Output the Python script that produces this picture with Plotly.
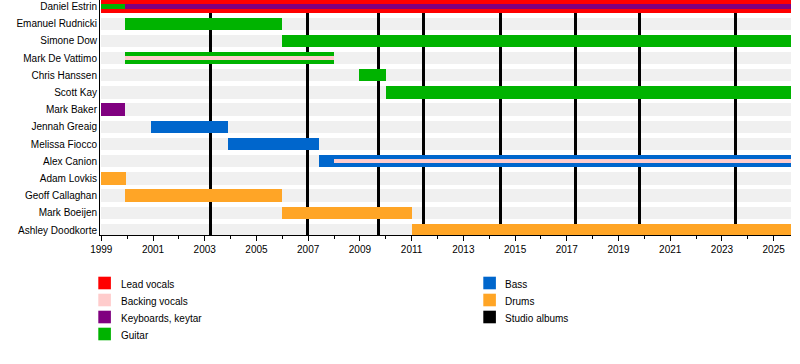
import plotly.graph_objects as go

# ---------------- data ----------------
members = ["Daniel Estrin", "Emanuel Rudnicki", "Simone Dow", "Mark De Vattimo",
           "Chris Hanssen", "Scott Kay", "Mark Baker", "Jennah Greaig",
           "Melissa Fiocco", "Alex Canion", "Adam Lovkis", "Geoff Callaghan",
           "Mark Boeijen", "Ashley Doodkorte"]

TIMELINE_START = 1999.0
PRESENT = 2025.67

bar_member = ["Daniel Estrin", "Emanuel Rudnicki", "Simone Dow", "Mark De Vattimo",
              "Chris Hanssen", "Scott Kay", "Mark Baker", "Jennah Greaig",
              "Melissa Fiocco", "Alex Canion", "Adam Lovkis", "Geoff Callaghan",
              "Mark Boeijen", "Ashley Doodkorte"]
bar_role = ["Lead vocals", "Guitar", "Guitar", "Guitar", "Guitar", "Guitar",
            "Keyboards, keytar", "Bass", "Bass", "Bass", "Drums", "Drums", "Drums", "Drums"]
bar_start = [1999.0, 1999.93, 2006.0, 1999.93, 2008.97, 2010.0, 1999.0,
             2000.92, 2003.9, 2007.42, 1999.0, 1999.93, 2006.0, 2011.0]
bar_end = [PRESENT, 2006.0, PRESENT, 2008.0, 2010.0, PRESENT, 1999.93,
           2003.9, 2007.42, PRESENT, 1999.94, 2006.0, 2011.0, PRESENT]

stripe_member = ["Daniel Estrin", "Daniel Estrin", "Mark De Vattimo", "Alex Canion"]
stripe_role = ["Guitar", "Keyboards, keytar", "Backing vocals", "Backing vocals"]
stripe_start = [1999.0, 1999.93, 1999.93, 2008.0]
stripe_end = [1999.93, PRESENT, 2008.0, PRESENT]

album_dates = [2003.21, 2006.97, 2009.73, 2011.45, 2014.42, 2017.33, 2019.8, 2023.52]

legend_col1 = ["Lead vocals", "Backing vocals", "Keyboards, keytar", "Guitar"]
legend_col2 = ["Bass", "Drums", "Studio albums"]

role_colors = {
    "Lead vocals": "#FF0000",
    "Backing vocals": "#FFCCCC",
    "Keyboards, keytar": "#800080",
    "Guitar": "#00B300",
    "Bass": "#0066CC",
    "Drums": "#FFA526",
    "Studio albums": "#000000",
}

# ---------------- layout geometry ----------------
W, H = 800, 364
L, R, T, B = 100, 9, 0, 129
PW, PH = W - L - R, H - T - B
Y_TOP, Y_BOT = -0.38, 13.29
X_MIN = 1998.95
FONT = "Liberation Sans, Arial, sans-serif"

def px_x(px):
    return (px - L) / PW

def px_y(py):
    return (T + PH - py) / PH

row_of = {m: i for i, m in enumerate(members)}

fig = go.Figure()

# background row bands
fig.add_trace(go.Bar(
    y=list(range(len(members))), x=[PRESENT - TIMELINE_START] * len(members),
    base=[TIMELINE_START] * len(members), orientation="h", width=0.72,
    marker=dict(color="#F0F0F0", line=dict(width=0)),
    showlegend=False, hoverinfo="skip"))

# studio album markers (vertical bars)
fig.add_trace(go.Bar(
    x=album_dates, y=[Y_BOT - Y_TOP + 1] * len(album_dates),
    base=[Y_TOP - 0.5] * len(album_dates), orientation="v", width=0.116,
    marker=dict(color=role_colors["Studio albums"], line=dict(width=0)),
    showlegend=False, name="Studio albums"))

# main bars by role
for role in ["Lead vocals", "Guitar", "Keyboards, keytar", "Bass", "Drums"]:
    idx = [i for i, r in enumerate(bar_role) if r == role]
    fig.add_trace(go.Bar(
        y=[row_of[bar_member[i]] for i in idx],
        x=[bar_end[i] - bar_start[i] for i in idx],
        base=[bar_start[i] for i in idx],
        orientation="h", width=0.72,
        marker=dict(color=role_colors[role], line=dict(width=0)),
        showlegend=False, name=role))

# thin stripes
for role in ["Guitar", "Keyboards, keytar", "Backing vocals"]:
    idx = [i for i, r in enumerate(stripe_role) if r == role]
    fig.add_trace(go.Bar(
        y=[row_of[stripe_member[i]] for i in idx],
        x=[stripe_end[i] - stripe_start[i] for i in idx],
        base=[stripe_start[i] for i in idx],
        orientation="h", width=0.25,
        marker=dict(color=role_colors[role], line=dict(width=0)),
        showlegend=False, name=role))

# ---------------- manual legend ----------------
shapes, annotations = [], []
for col, (labels, sx, tx) in enumerate([(legend_col1, 98.3, 118.5), (legend_col2, 483.3, 503.0)]):
    for k, lab in enumerate(labels):
        cy = 283 + 17 * k
        shapes.append(dict(type="rect", xref="paper", yref="paper",
                           x0=px_x(sx), x1=px_x(sx + 12.6),
                           y0=px_y(cy - 6.3), y1=px_y(cy + 6.3),
                           fillcolor=role_colors[lab], line=dict(width=0)))
        annotations.append(dict(xref="paper", yref="paper", x=px_x(tx), y=px_y(cy + 1),
                                text=lab, showarrow=False, xanchor="left", yanchor="middle",
                                font=dict(family=FONT, size=10, color="#000")))

fig.update_layout(
    width=W, height=H,
    margin=dict(l=L, r=R, t=T, b=B, autoexpand=False),
    barmode="overlay", bargap=0,
    plot_bgcolor="white", paper_bgcolor="white",
    font=dict(family=FONT, size=10, color="#000"),
    shapes=shapes, annotations=annotations,
    showlegend=False,
)
fig.update_xaxes(range=[X_MIN, PRESENT], tick0=1999, dtick=2, ticks="outside",
                 ticklen=5, tickwidth=1, tickcolor="#000",
                 minor=dict(dtick=1, tick0=1999, ticks="outside", ticklen=3, tickcolor="#000", tickwidth=1),
                 showline=True, linecolor="#000", linewidth=1,
                 showgrid=False, zeroline=False, automargin=False,
                 tickfont=dict(family=FONT, size=10, color="#000"))
fig.update_yaxes(range=[Y_BOT, Y_TOP], tickvals=list(range(len(members))), ticktext=members,
                 ticks="", showline=True, linecolor="#000", linewidth=1,
                 showgrid=False, zeroline=False, automargin=False,
                 tickfont=dict(family=FONT, size=10, color="#000"))

fig.write_html("out.html",
               config={"displayModeBar": False},
               post_script="document.body.style.margin='0px';document.body.style.overflow='hidden';")
